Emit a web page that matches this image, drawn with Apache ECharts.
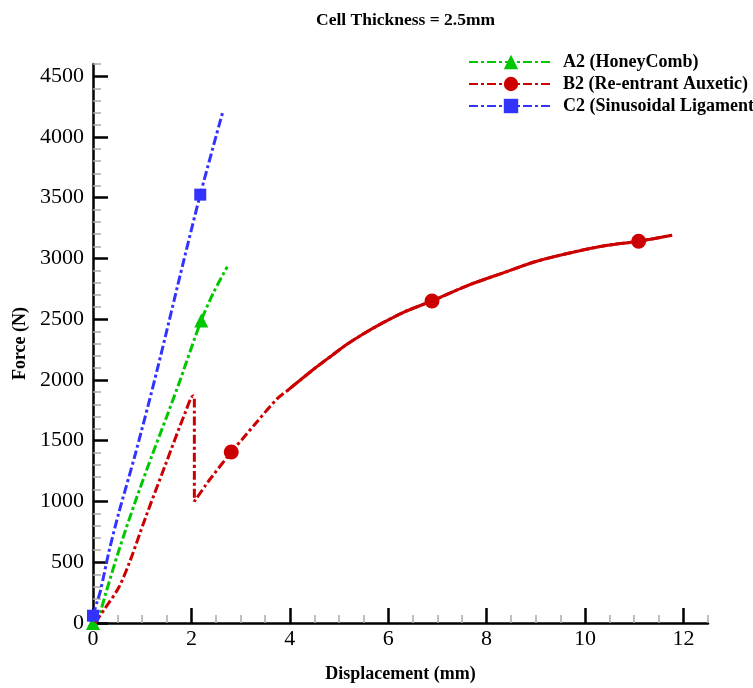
<!DOCTYPE html>
<html>
<head>
<meta charset="utf-8">
<script src="https://cdn.jsdelivr.net/npm/echarts@6/dist/echarts.min.js"></script>
<style>
	html,body{margin:0;padding:0;background:#fff;}
	#main{width:753px;height:688px;}
</style>
</head>
<body>
<div id="main"></div>
<script>
	// displacement (mm) / force (N)
	let a2X=[0,0.15,0.25,0.52,0.86,1.20,1.50,1.78,1.85,2.20,2.45,2.73];
	let a2Y=[0,98,232,590,1000,1380,1700,2008,2090,2490,2720,2932];
	let a2Marks=[0,9];

	let b2X=[0.05,0.15,0.25,0.52,0.75,1.07,1.47,1.88,2.04,2.06,2.06,2.29,2.39,2.81,3.05,3.30,3.74,3.95,4.49,4.80,5.17,5.50,5.84,6.30,6.89,7.60,8.35,9.00,9.71,10.40,11.09,11.77];
	let b2Y=[0,65,123,290,508,870,1300,1737,1871,1850,1000,1134,1189,1407,1520,1640,1844,1912,2090,2185,2295,2380,2459,2555,2650,2775,2883,2975,3047,3105,3142,3191];
	let b2Marks=[14-1,24,30];
	let b2SolidFrom=17; // far part of the curve is drawn almost solid in the picture

	let c2X=[0,0.08,0.15,0.32,0.52,0.86,1.29,1.86,2.18,2.64];
	let c2Y=[60,170,262,580,900,1390,2060,3008,3525,4210];
	let c2Marks=[0,8];

	let xTicks=[0,2,4,6,8,10,12];
	let xMinor=[0.5,1,1.5,2.5,3,3.5,4.5,5,5.5,6.5,7,7.5,8.5,9,9.5,10.5,11,11.5,12.5];
	let yTicks=[0,500,1000,1500,2000,2500,3000,3500,4000,4500];
	let yMinor=[];
	for(let v=100;v<=4600;v+=100){
		if(v%500!=0) yMinor.push(v);
	}

	let serif="Liberation Serif";

	function pts(xs,ys,marks){
		return xs.map(function(x,i){
			let item={value:[x,ys[i]]};
			if(marks.indexOf(i)<0) item.symbol='none';
			return item;
		});
	}

	function dashLine(color){
		return {color:color,width:3,type:[9,3,3,3]};
	}

	var myChart=echarts.init(document.getElementById('main'));

	var option={
		animation:false,
		title:{
			text:'Cell Thickness = 2.5mm',
			left:311,
			top:6,
			textStyle:{fontFamily:serif,fontWeight:'bold',fontSize:17.5,color:'#000'}
		},
		legend:{
			orient:'vertical',
			left:463,
			top:48,
			itemWidth:84,
			itemHeight:18,
			itemGap:4,
			textStyle:{fontFamily:serif,fontWeight:'bold',fontSize:18,color:'#000',padding:[0,0,0,5]},
			data:['A2 (HoneyComb)','B2 (Re-entrant Auxetic)','C2 (Sinusoidal Ligament)']
		},
		grid:{left:93,right:45,top:64,bottom:63},
		xAxis:[{
			type:'value',
			min:0,max:12.5,
			name:'Displacement (mm)',
			nameLocation:'middle',
			nameGap:42,
			nameTextStyle:{fontFamily:serif,fontWeight:'bold',fontSize:18,color:'#000'},
			axisLine:{show:true,onZero:false,lineStyle:{color:'#000',width:2.5}},
			axisTick:{show:true,inside:true,length:15,lineStyle:{color:'#000',width:2.5},customValues:xTicks},
			axisLabel:{fontFamily:serif,fontSize:22,color:'#000',margin:5,customValues:xTicks},
			splitLine:{show:false}
		},{
			type:'value',
			min:0,max:12.5,
			position:'bottom',
			axisLine:{show:false},
			axisTick:{show:true,inside:true,length:8,lineStyle:{color:'#aaa',width:1.5},customValues:xMinor},
			axisLabel:{show:false},
			splitLine:{show:false}
		}],
		yAxis:[{
			type:'value',
			min:0,max:4600,
			name:'Force (N)',
			nameLocation:'middle',
			nameGap:60,
			nameTextStyle:{fontFamily:serif,fontWeight:'bold',fontSize:18,color:'#000'},
			axisLine:{show:true,onZero:false,lineStyle:{color:'#000',width:2.5}},
			axisTick:{show:true,inside:true,length:15,lineStyle:{color:'#000',width:2.5},customValues:yTicks},
			axisLabel:{fontFamily:serif,fontSize:22,color:'#000',margin:9,customValues:yTicks,
				formatter:function(v){return String(v);}},
			splitLine:{show:false}
		},{
			type:'value',
			min:0,max:4600,
			position:'left',
			axisLine:{show:false},
			axisTick:{show:true,inside:true,length:8,lineStyle:{color:'#aaa',width:1.5},customValues:yMinor},
			axisLabel:{show:false},
			splitLine:{show:false}
		}],
		series:[
			{
				name:'A2 (HoneyComb)',
				type:'line',
				symbol:'triangle',
				symbolSize:14,
				smooth:0.3,
				color:'#00c800',
				itemStyle:{color:'#00c800'},
				lineStyle:dashLine('#00c800'),
				data:pts(a2X,a2Y,a2Marks),
				z:2
			},
			{
				// solid-looking far part of B2, kept out of the legend
				type:'line',
				symbol:'none',
				smooth:0.3,
				color:'#cc0000',
				lineStyle:{color:'#cc0000',width:3},
				data:b2X.slice(b2SolidFrom).map(function(x,i){return [x,b2Y[b2SolidFrom+i]];}),
				z:2
			},
			{
				name:'B2 (Re-entrant Auxetic)',
				type:'line',
				symbol:'circle',
				symbolSize:15,
				smooth:0.3,
				color:'#cc0000',
				itemStyle:{color:'#cc0000'},
				lineStyle:dashLine('#cc0000'),
				data:pts(b2X,b2Y,b2Marks),
				z:3
			},
			{
				name:'C2 (Sinusoidal Ligament)',
				type:'line',
				symbol:'rect',
				symbolSize:12,
				smooth:0.3,
				color:'#3333ff',
				itemStyle:{color:'#3333ff'},
				lineStyle:dashLine('#3333ff'),
				data:pts(c2X,c2Y,c2Marks),
				z:4
			}
		]
	};

	myChart.setOption(option);
</script>
</body>
</html>
